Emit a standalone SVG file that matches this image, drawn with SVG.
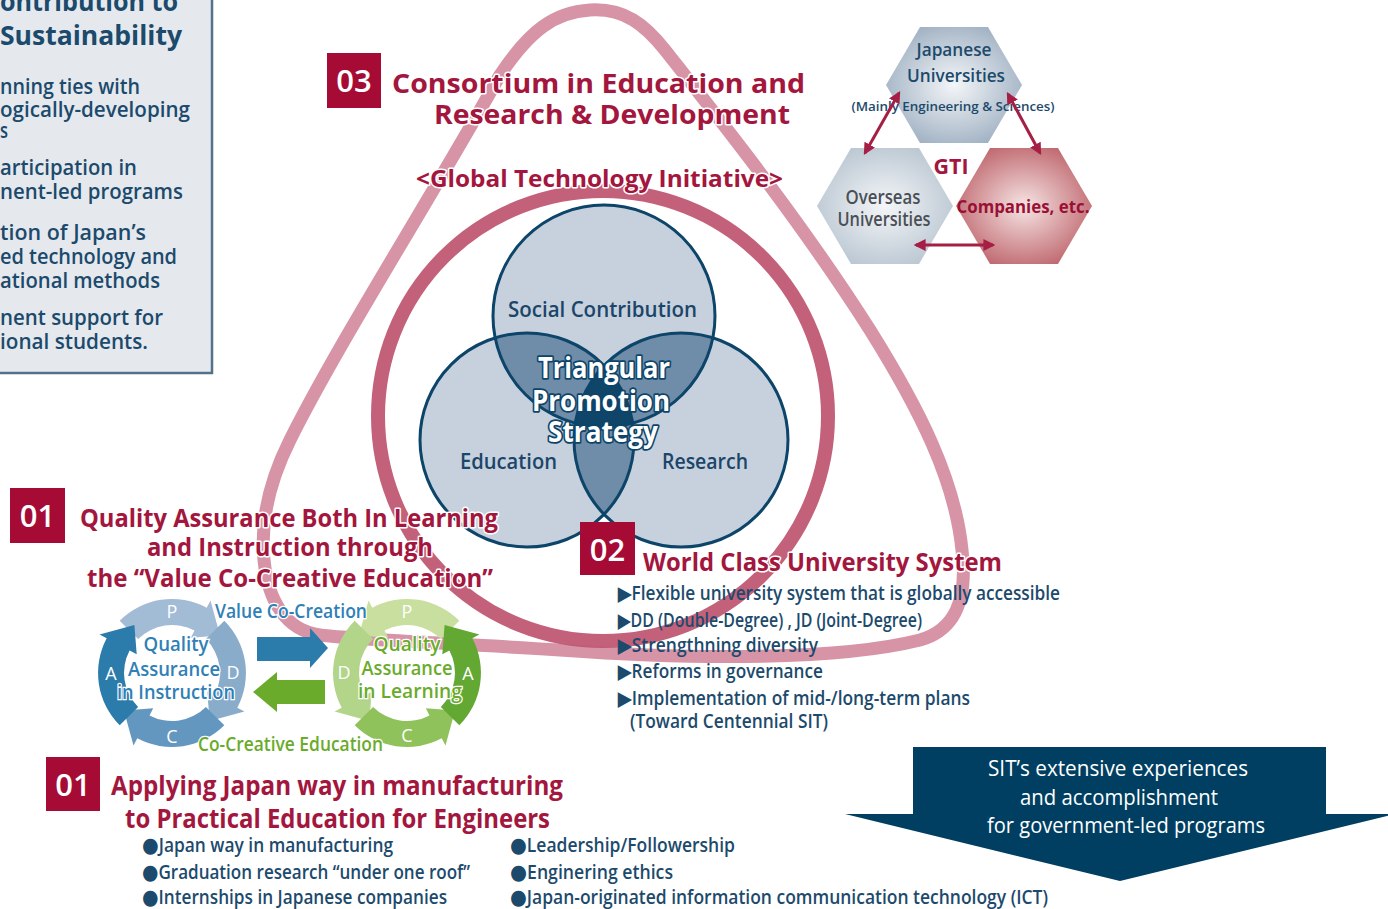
<svg xmlns="http://www.w3.org/2000/svg" width="1388" height="909" viewBox="0 0 1388 909">
<defs>
<style>
text{font-family:"Open Sans","Liberation Sans",Arial,sans-serif}
.cr{fill:#a3163d;font-weight:bold;stroke:#fff;stroke-width:3;paint-order:stroke;stroke-linejoin:round}
.nv{fill:#1c4a6c;font-weight:600}
.num{fill:#fff;font-size:31px;text-anchor:middle;font-weight:600}
.nbox{fill:#a50b35}
.vc{fill:#c6d1dd}
.vm{fill:#6f8ca8}
.vd{fill:#0f4569}
.vo{fill:none;stroke:#0d4469;stroke-width:3}
.vt{fill:#1b4569;font-size:22px;font-weight:600}
.tp{fill:#fff;stroke:#0d4469;stroke-width:3.5;paint-order:stroke;stroke-linejoin:round;font-size:28px;font-weight:bold;text-anchor:middle}
.cyl{fill:#fff;font-size:18px;text-anchor:middle}
.bt{fill:#2f80b6;font-size:20px;font-weight:600;text-anchor:middle;stroke:#fff;stroke-width:2.5;paint-order:stroke}
.gt{fill:#6aab2b;font-size:20px;font-weight:600;text-anchor:middle;stroke:#fff;stroke-width:2.5;paint-order:stroke}
.lb{fill:#1c4a6c;font-size:21px;font-weight:600}
.li{fill:#1c4a6c;font-size:19px;font-weight:600}
.bu{font-family:"DejaVu Sans",sans-serif;font-size:21px}
.wt{fill:#fff;font-size:21px;text-anchor:middle}
.gta{stroke:#a51f45;stroke-width:3;fill:none;marker-start:url(#ah);marker-end:url(#ah)}
</style>
<marker id="ah" viewBox="0 0 10 10" refX="8" refY="5" markerWidth="4" markerHeight="4" orient="auto-start-reverse">
<path d="M0,0 L10,5 L0,10 Z" fill="#a51f45"/>
</marker>
<path id="seg" d="M52.3,-52.3 A74,74 0 0 1 65.3,34.7 L72.4,38.5 L37.6,48.1 L35.3,18.8 L42.4,22.5 A48,48 0 0 0 33.9,-33.9 Z"/>
<radialGradient id="gJ" cx="0.5" cy="0.5" r="0.6"><stop offset="0" stop-color="#f4f6f8"/><stop offset="1" stop-color="#9aacbf"/></radialGradient>
<radialGradient id="gO" cx="0.5" cy="0.5" r="0.6"><stop offset="0" stop-color="#f4f6f8"/><stop offset="1" stop-color="#b6c3cf"/></radialGradient>
<radialGradient id="gC" cx="0.5" cy="0.5" r="0.6"><stop offset="0" stop-color="#f6e4e4"/><stop offset="1" stop-color="#bb5f66"/></radialGradient>
<clipPath id="cT"><circle cx="604" cy="316" r="111"/></clipPath>
<clipPath id="cL"><circle cx="527" cy="440" r="107"/></clipPath>
<clipPath id="cR"><circle cx="681" cy="440" r="107"/></clipPath>
</defs>

<g id="sustainability-box">
<rect x="-5" y="-5" width="217" height="378" fill="#e5e9ee" stroke="#52728c" stroke-width="2.5"/>
<text x="0" y="11" font-size="26" font-weight="bold" fill="#1c4a6c" textLength="178" lengthAdjust="spacingAndGlyphs">ontribution to</text>
<text x="0" y="45" font-size="26" font-weight="bold" fill="#1c4a6c" textLength="182" lengthAdjust="spacingAndGlyphs">Sustainability</text>
<text class="lb" x="0" y="94" textLength="140" lengthAdjust="spacingAndGlyphs">nning ties with</text>
<text class="lb" x="0" y="117" textLength="190" lengthAdjust="spacingAndGlyphs">ogically-developing</text>
<text class="lb" x="0" y="138" textLength="8" lengthAdjust="spacingAndGlyphs">s</text>
<text class="lb" x="0" y="175" textLength="137" lengthAdjust="spacingAndGlyphs">articipation in</text>
<text class="lb" x="0" y="199" textLength="183" lengthAdjust="spacingAndGlyphs">nent-led programs</text>
<text class="lb" x="0" y="240" textLength="146" lengthAdjust="spacingAndGlyphs">tion of Japan’s</text>
<text class="lb" x="0" y="264" textLength="177" lengthAdjust="spacingAndGlyphs">ed technology and</text>
<text class="lb" x="0" y="288" textLength="160" lengthAdjust="spacingAndGlyphs">ational methods</text>
<text class="lb" x="0" y="325" textLength="163" lengthAdjust="spacingAndGlyphs">nent support for</text>
<text class="lb" x="0" y="349" textLength="148" lengthAdjust="spacingAndGlyphs">ional students.</text>
</g>

<g id="rings">
<path d="M590,10 C625,8 645,25 665,50 C720,120 800,220 870,330 C920,410 955,480 962,550 C968,600 955,630 920,640 C840,660 700,660 560,650 C450,643 360,640 320,635 C285,630 268,600 264,560 C260,520 270,480 290,440 C340,340 430,200 500,75 C530,30 555,12 590,10 Z" fill="none" stroke="#d794a7" stroke-width="13"/>
<circle cx="603" cy="416" r="225" fill="none" stroke="#c05874" stroke-width="14" stroke-opacity="0.95"/>
</g>

<g id="venn">
<circle class="vc" cx="604" cy="316" r="111"/>
<circle class="vc" cx="527" cy="440" r="107"/>
<circle class="vc" cx="681" cy="440" r="107"/>
<circle class="vm" cx="604" cy="316" r="111" clip-path="url(#cL)"/>
<circle class="vm" cx="604" cy="316" r="111" clip-path="url(#cR)"/>
<circle class="vm" cx="527" cy="440" r="107" clip-path="url(#cR)"/>
<g clip-path="url(#cL)"><circle class="vd" cx="604" cy="316" r="111" clip-path="url(#cR)"/></g>
<circle class="vo" cx="604" cy="316" r="111"/>
<circle class="vo" cx="527" cy="440" r="107"/>
<circle class="vo" cx="681" cy="440" r="107"/>
<text class="vt" x="508" y="317" textLength="189" lengthAdjust="spacingAndGlyphs">Social Contribution</text>
<text class="vt" x="460" y="469" textLength="97" lengthAdjust="spacingAndGlyphs">Education</text>
<text class="vt" x="662" y="469" textLength="86" lengthAdjust="spacingAndGlyphs">Research</text>
<text class="tp" x="604" y="378" textLength="132" lengthAdjust="spacingAndGlyphs">Triangular</text>
<text class="tp" x="601" y="411" textLength="138" lengthAdjust="spacingAndGlyphs">Promotion</text>
<text class="tp" x="603" y="442" textLength="110" lengthAdjust="spacingAndGlyphs">Strategy</text>
</g>

<g id="consortium">
<rect class="nbox" x="327" y="53" width="54" height="55"/>
<text class="num" x="354" y="92">03</text>
<text class="cr" x="392" y="93" font-size="27" textLength="413" lengthAdjust="spacingAndGlyphs">Consortium in Education and</text>
<text class="cr" x="434" y="124" font-size="27" textLength="356" lengthAdjust="spacingAndGlyphs">Research &amp; Development</text>
<text class="cr" x="416" y="187" font-size="24" textLength="367" lengthAdjust="spacingAndGlyphs">&lt;Global Technology Initiative&gt;</text>
</g>

<g id="gti">
<polygon points="886,85 920,27 988,27 1022,85 988,143 920,143" fill="url(#gJ)"/>
<polygon points="817,206 851,148 919,148 953,206 919,264 851,264" fill="url(#gO)"/>
<polygon points="956,206 990,148 1058,148 1092,206 1058,264 990,264" fill="url(#gC)"/>
<text x="954" y="56" font-size="18" font-weight="600" fill="#1c4a6c" text-anchor="middle" textLength="75" lengthAdjust="spacingAndGlyphs">Japanese</text>
<text x="956" y="82" font-size="18" font-weight="600" fill="#1c4a6c" text-anchor="middle" textLength="98" lengthAdjust="spacingAndGlyphs">Universities</text>
<text x="953" y="111" font-size="13" font-weight="600" fill="#1c4a6c" text-anchor="middle" textLength="203" lengthAdjust="spacingAndGlyphs">(Mainly Engineering &amp; Sciences)</text>
<text x="951" y="174" font-size="21" font-weight="bold" fill="#a3163d" text-anchor="middle" textLength="35" lengthAdjust="spacingAndGlyphs">GTI</text>
<text x="883" y="204" font-size="19" font-weight="600" fill="#4a4f55" text-anchor="middle" textLength="75" lengthAdjust="spacingAndGlyphs">Overseas</text>
<text x="884" y="226" font-size="19" font-weight="600" fill="#4a4f55" text-anchor="middle" textLength="93" lengthAdjust="spacingAndGlyphs">Universities</text>
<text x="1023" y="213" font-size="18" font-weight="bold" fill="#9a1035" text-anchor="middle" textLength="133" lengthAdjust="spacingAndGlyphs">Companies, etc.</text>
</g>

<g id="quality-assurance">
<rect class="nbox" x="10" y="488" width="55" height="55"/>
<text class="num" x="37.5" y="527">01</text>
<text class="cr" x="80" y="527" font-size="25" textLength="418" lengthAdjust="spacingAndGlyphs">Quality Assurance Both In Learning</text>
<text class="cr" x="147" y="556" font-size="25" textLength="286" lengthAdjust="spacingAndGlyphs">and Instruction through</text>
<text class="cr" x="87" y="587" font-size="25" textLength="406" lengthAdjust="spacingAndGlyphs">the “Value Co-Creative Education”</text>
</g>

<g id="cycle-instruction" transform="translate(172,673)">
<use href="#seg" transform="rotate(270)" fill="#a3bcd6"/>
<use href="#seg" fill="#8aaccb"/>
<use href="#seg" transform="rotate(90)" fill="#6497c0"/>
<use href="#seg" transform="rotate(180)" fill="#2b7bab"/>
<text class="cyl" x="0" y="-55">P</text>
<text class="cyl" x="61" y="6">D</text>
<text class="cyl" x="0" y="70">C</text>
<text class="cyl" x="-61" y="7">A</text>
<text class="bt" x="4" y="-22" textLength="65" lengthAdjust="spacingAndGlyphs">Quality</text>
<text class="bt" x="2" y="3" textLength="92" lengthAdjust="spacingAndGlyphs">Assurance</text>
<text class="bt" x="4" y="26" textLength="118" lengthAdjust="spacingAndGlyphs">in Instruction</text>
</g>

<g id="cycle-learning" transform="translate(407,673)">
<g transform="scale(-1,1)">
<use href="#seg" transform="rotate(270)" fill="#c9df9f"/>
<use href="#seg" fill="#b2d58a"/>
<use href="#seg" transform="rotate(90)" fill="#8fc25a"/>
<use href="#seg" transform="rotate(180)" fill="#62a832"/>
</g>
<text class="cyl" x="0" y="-55">P</text>
<text class="cyl" x="-63" y="6">D</text>
<text class="cyl" x="0" y="69">C</text>
<text class="cyl" x="61" y="7">A</text>
<text class="gt" x="0" y="-22" textLength="67" lengthAdjust="spacingAndGlyphs">Quality</text>
<text class="gt" x="0" y="2" textLength="91" lengthAdjust="spacingAndGlyphs">Assurance</text>
<text class="gt" x="3" y="25" textLength="104" lengthAdjust="spacingAndGlyphs">in Learning</text>
</g>

<g id="cycle-labels">
<text x="215" y="618" font-size="19" font-weight="600" fill="#2f80b6" stroke="#fff" stroke-width="2.5" paint-order="stroke" textLength="152" lengthAdjust="spacingAndGlyphs">Value Co-Creation</text>
<text x="198" y="751" font-size="19" font-weight="600" fill="#6aab2b" stroke="#fff" stroke-width="2.5" paint-order="stroke" textLength="185" lengthAdjust="spacingAndGlyphs">Co-Creative Education</text>
</g>

<g id="connectors">
<polygon points="257,637 310,637 310,628 328,648 310,668 310,661 257,661" fill="#2b7bab"/>
<polygon points="325,680 277,680 277,672 253,692 277,712 277,704 325,704" fill="#6aab2b"/>
<line class="gta" x1="865" y1="153" x2="899" y2="93"/>
<line class="gta" x1="1008" y1="94" x2="1040" y2="153"/>
<line class="gta" x1="916" y1="245" x2="993" y2="245"/>
</g>

<g id="world-class">
<rect class="nbox" x="580" y="522" width="55" height="53"/>
<text class="num" x="607.5" y="561">02</text>
<text class="cr" x="643" y="571" font-size="25" textLength="359" lengthAdjust="spacingAndGlyphs">World Class University System</text>
<text class="li" x="618" y="600" textLength="442" lengthAdjust="spacingAndGlyphs">▶Flexible university system that is globally accessible</text>
<text class="li" x="618" y="627" textLength="304" lengthAdjust="spacingAndGlyphs">▶DD (Double-Degree) , JD (Joint-Degree)</text>
<text class="li" x="618" y="652" textLength="200" lengthAdjust="spacingAndGlyphs">▶Strengthning diversity</text>
<text class="li" x="618" y="678" textLength="205" lengthAdjust="spacingAndGlyphs">▶Reforms in governance</text>
<text class="li" x="618" y="705" textLength="352" lengthAdjust="spacingAndGlyphs">▶Implementation of mid-/long-term plans</text>
<text class="li" x="630" y="728" textLength="198" lengthAdjust="spacingAndGlyphs">(Toward Centennial SIT)</text>
</g>

<g id="practical-education">
<rect class="nbox" x="46" y="757" width="54" height="54"/>
<text class="num" x="73" y="796">01</text>
<text class="cr" x="111" y="795" font-size="27" textLength="452" lengthAdjust="spacingAndGlyphs">Applying Japan way in manufacturing</text>
<text class="cr" x="125" y="828" font-size="27" textLength="425" lengthAdjust="spacingAndGlyphs">to Practical Education for Engineers</text>
<text class="li" x="142" y="852" textLength="251" lengthAdjust="spacingAndGlyphs"><tspan class="bu">●</tspan>Japan way in manufacturing</text>
<text class="li" x="142" y="879" textLength="328" lengthAdjust="spacingAndGlyphs"><tspan class="bu">●</tspan>Graduation research “under one roof”</text>
<text class="li" x="142" y="904" textLength="305" lengthAdjust="spacingAndGlyphs"><tspan class="bu">●</tspan>Internships in Japanese companies</text>
<text class="li" x="510" y="852" textLength="225" lengthAdjust="spacingAndGlyphs"><tspan class="bu">●</tspan>Leadership/Followership</text>
<text class="li" x="510" y="879" textLength="163" lengthAdjust="spacingAndGlyphs"><tspan class="bu">●</tspan>Enginering ethics</text>
<text class="li" x="510" y="904" textLength="538" lengthAdjust="spacingAndGlyphs"><tspan class="bu">●</tspan>Japan-originated information communication technology (ICT)</text>
</g>

<g id="sit-arrow">
<polygon points="913,747 1326,747 1326,814 1395,814 1120,881 845,814 913,814" fill="#003f62"/>
<text class="wt" x="1118" y="776" textLength="260" lengthAdjust="spacingAndGlyphs">SIT’s extensive experiences</text>
<text class="wt" x="1119" y="805" textLength="198" lengthAdjust="spacingAndGlyphs">and accomplishment</text>
<text class="wt" x="1126" y="833" textLength="278" lengthAdjust="spacingAndGlyphs">for government-led programs</text>
</g>
</svg>
